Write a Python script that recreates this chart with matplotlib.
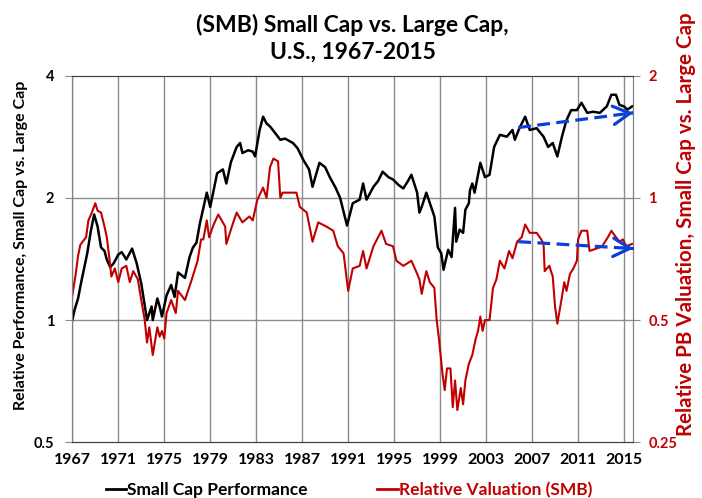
import matplotlib
matplotlib.use("Agg")
from matplotlib import pyplot as plt
from matplotlib.lines import Line2D
from matplotlib.ticker import FixedLocator, NullLocator

plt.rcParams['font.family'] = ['Lato', 'DejaVu Sans']
plt.rcParams['font.weight'] = 'bold'

# small cap vs large cap relative performance (left axis)
perf_years = [1967.0, 1967.2, 1967.5, 1967.8, 1968.0, 1968.3, 1968.6, 1968.9, 1969.2, 1969.5,
              1969.8, 1970.0, 1970.3, 1970.6, 1971.0, 1971.3, 1971.7, 1972.2, 1972.6, 1973.0,
              1973.5, 1973.9, 1974.0, 1974.4, 1974.6, 1974.8, 1975.2, 1975.6, 1975.9, 1976.2,
              1976.8, 1977.2, 1977.5, 1977.8, 1978.1, 1978.7, 1979.0, 1979.6, 1980.1, 1980.4,
              1980.8, 1981.3, 1981.6, 1981.8, 1982.3, 1982.7, 1982.9, 1983.3, 1983.6, 1983.9,
              1984.2, 1984.6, 1985.1, 1985.5, 1986.2, 1986.6, 1987.1, 1987.6, 1987.9, 1988.5,
              1989.0, 1989.4, 1989.9, 1990.3, 1990.9, 1991.4, 1992.0, 1992.3, 1992.6, 1993.2,
              1993.6, 1994.0, 1994.5, 1994.9, 1995.4, 1995.8, 1996.2, 1996.5, 1997.0, 1997.2,
              1997.4, 1997.8, 1998.3, 1998.5, 1998.8, 1999.1, 1999.3, 1999.7, 2000.0, 2000.3,
              2000.4, 2000.7, 2001.0, 2001.2, 2001.5, 2001.6, 2001.8, 2002.0, 2002.5, 2002.9,
              2003.3, 2003.7, 2004.2, 2004.8, 2005.3, 2005.5, 2005.9, 2006.4, 2006.8, 2007.4,
              2008.0, 2008.4, 2008.8, 2009.2, 2009.6, 2010.0, 2010.4, 2010.9, 2011.3, 2011.8,
              2012.3, 2012.9, 2013.5, 2013.9, 2014.3, 2014.6, 2015.0, 2015.3, 2015.7]
perf_values = [1.00, 1.06, 1.13, 1.25, 1.33, 1.46, 1.65, 1.82, 1.70, 1.51,
               1.48, 1.41, 1.35, 1.38, 1.45, 1.47, 1.41, 1.50, 1.38, 1.23,
               1.00, 1.08, 1.00, 1.13, 1.08, 1.02, 1.15, 1.22, 1.14, 1.31,
               1.27, 1.43, 1.51, 1.55, 1.73, 2.06, 1.90, 2.30, 2.35, 2.17,
               2.45, 2.67, 2.73, 2.58, 2.62, 2.60, 2.53, 2.94, 3.17, 3.05,
               3.00, 2.90, 2.78, 2.80, 2.73, 2.65, 2.48, 2.35, 2.13, 2.44,
               2.38, 2.25, 2.12, 2.00, 1.71, 1.94, 1.98, 2.17, 1.98, 2.13,
               2.20, 2.32, 2.25, 2.22, 2.15, 2.11, 2.20, 2.28, 2.06, 1.84,
               1.90, 2.06, 1.87, 1.80, 1.51, 1.46, 1.33, 1.49, 1.43, 1.89,
               1.56, 1.67, 1.64, 1.87, 1.94, 2.09, 2.17, 2.06, 2.44, 2.25,
               2.28, 2.67, 2.86, 2.83, 2.94, 2.78, 2.97, 3.17, 2.94, 2.97,
               2.83, 2.67, 2.73, 2.53, 2.83, 3.11, 3.29, 3.29, 3.43, 3.24,
               3.26, 3.24, 3.36, 3.59, 3.59, 3.39, 3.36, 3.30, 3.36]

# relative PB valuation, small vs large (right axis)
val_years = [1967.0, 1967.3, 1967.5, 1967.7, 1967.9, 1968.2, 1968.4, 1968.7, 1969.0, 1969.2,
             1969.5, 1969.8, 1970.0, 1970.2, 1970.4, 1970.7, 1971.0, 1971.3, 1971.7, 1972.0,
             1972.3, 1972.7, 1973.0, 1973.3, 1973.5, 1973.7, 1974.0, 1974.4, 1974.6, 1974.8,
             1975.0, 1975.2, 1975.6, 1976.0, 1976.2, 1976.8, 1977.4, 1977.9, 1978.2, 1978.4,
             1978.7, 1978.9, 1979.3, 1979.7, 1980.0, 1980.3, 1980.4, 1981.0, 1981.3, 1981.8,
             1982.4, 1982.7, 1983.1, 1983.6, 1983.9, 1984.2, 1984.5, 1984.9, 1985.1, 1985.3,
             1985.9, 1986.5, 1986.8, 1987.4, 1987.9, 1988.4, 1989.1, 1989.7, 1990.1, 1990.6,
             1991.0, 1991.4, 1992.0, 1992.3, 1992.6, 1993.2, 1993.9, 1994.3, 1994.9, 1995.2,
             1995.8, 1996.5, 1997.0, 1997.2, 1997.4, 1997.8, 1998.1, 1998.5, 1998.7, 1998.9,
             1999.2, 1999.4, 1999.6, 1999.9, 2000.1, 2000.3, 2000.5, 2000.8, 2001.0, 2001.2,
             2001.5, 2001.8, 2002.1, 2002.3, 2002.5, 2002.7, 2002.9, 2003.3, 2003.6, 2003.9,
             2004.2, 2004.6, 2005.0, 2005.3, 2005.7, 2006.1, 2006.4, 2006.8, 2007.4, 2007.8,
             2008.0, 2008.1, 2008.5, 2008.8, 2009.0, 2009.2, 2009.6, 2009.8, 2010.0, 2010.3,
             2010.6, 2010.9, 2011.0, 2011.3, 2011.8, 2012.0, 2012.6, 2013.1, 2013.6, 2013.9,
             2014.3, 2014.6, 2014.9, 2015.2, 2015.7]
val_values = [0.575, 0.65, 0.72, 0.766, 0.78, 0.80, 0.88, 0.92, 0.97, 0.93,
              0.92, 0.85, 0.80, 0.72, 0.64, 0.67, 0.62, 0.67, 0.68, 0.62,
              0.66, 0.63, 0.56, 0.50, 0.44, 0.48, 0.41, 0.48, 0.455, 0.47,
              0.45, 0.52, 0.56, 0.52, 0.59, 0.56, 0.63, 0.70, 0.79, 0.79,
              0.88, 0.80, 0.86, 0.91, 0.88, 0.85, 0.77, 0.87, 0.92, 0.87,
              0.90, 0.88, 0.99, 1.06, 1.00, 1.19, 1.25, 1.23, 1.00, 1.03,
              1.03, 1.03, 0.95, 0.92, 0.78, 0.87, 0.85, 0.83, 0.76, 0.73,
              0.59, 0.67, 0.68, 0.74, 0.67, 0.76, 0.83, 0.77, 0.76, 0.70,
              0.68, 0.70, 0.65, 0.63, 0.58, 0.66, 0.62, 0.60, 0.50, 0.45,
              0.37, 0.336, 0.38, 0.38, 0.305, 0.355, 0.30, 0.34, 0.31, 0.355,
              0.39, 0.41, 0.45, 0.47, 0.51, 0.47, 0.50, 0.50, 0.60, 0.63,
              0.70, 0.67, 0.74, 0.71, 0.78, 0.80, 0.86, 0.82, 0.82, 0.79,
              0.77, 0.66, 0.68, 0.64, 0.54, 0.49, 0.57, 0.62, 0.59, 0.65,
              0.67, 0.70, 0.79, 0.83, 0.83, 0.74, 0.75, 0.76, 0.80, 0.83,
              0.80, 0.78, 0.79, 0.76, 0.77]

# dashed trend arrows: (start year, end year, start value, end value)
perf_arrow = [2005.8, 2015.8, 2.98, 3.24]
val_arrow = [2005.8, 2015.8, 0.78, 0.75]

year_ticks = list(range(1967, 2016, 4))
left_ticks = [0.5, 1, 2, 4]
left_labels = ["0.5", "1", "2", "4"]
right_ticks = [0.25, 0.5, 1, 2]
right_labels = ["0.25", "0.5", "1", "2"]

RED = "#C00000"
BLUE = "#0B3FD6"
GRID = "#8c8c8c"

fig = plt.figure(figsize=(7.02, 4.98), dpi=100)
ax = fig.add_axes([0.103, 0.112, 0.799, 0.736])
ax2 = ax.twinx()

ax.set_yscale("log")
ax2.set_yscale("log")
ax.set_xlim(1967, 2015.8)
ax.set_ylim(0.5, 4)
ax2.set_ylim(0.25, 2)

for yr in year_ticks:
    ax.axvline(yr, color=GRID, lw=1.0, zorder=0)
for v in [1, 2]:
    ax.axhline(v, color=GRID, lw=1.0, zorder=0)

ax.plot(perf_years, perf_values, color="black", lw=1.8, zorder=3)
ax2.plot(val_years, val_values, color=RED, lw=1.5, zorder=2)

# trend arrows
for a, axx in [(perf_arrow, ax), (val_arrow, ax2)]:
    axx.plot(a[:2], a[2:], color=BLUE, lw=2.3, ls=(0, (4, 2)), zorder=5, clip_on=False)
    axx.annotate("", xy=(a[1], a[3]), xytext=(a[1] - 0.3, a[3] - (a[3] - a[2]) * 0.03),
                 arrowprops=dict(arrowstyle="->,head_length=0.6,head_width=0.33",
                                 color=BLUE, lw=2.3, mutation_scale=20),
                 annotation_clip=False, zorder=6)

ax.set_xticks(year_ticks)
ax.set_xticklabels([str(y) for y in year_ticks], fontsize=11.5, fontweight="bold")
ax.tick_params(axis="x", length=0, pad=8)

ax.yaxis.set_major_locator(FixedLocator(left_ticks))
ax.yaxis.set_minor_locator(NullLocator())
ax.set_yticklabels(left_labels, fontsize=10.5, fontweight="bold")
ax.tick_params(axis="y", length=5, color=GRID, pad=8)

ax2.yaxis.set_major_locator(FixedLocator(right_ticks))
ax2.yaxis.set_minor_locator(NullLocator())
ax2.set_yticklabels(right_labels, fontsize=10.5, fontweight="bold", color=RED)
ax2.tick_params(axis="y", length=5, color=GRID, pad=6)

for s in ["top", "bottom"]:
    ax.spines[s].set_color("#404040")
    ax2.spines[s].set_color("#404040")
for s in ["left", "right"]:
    ax.spines[s].set_color("#808080")
    ax2.spines[s].set_color("#808080")

ax.set_ylabel("Relative Performance, Small Cap vs. Large Cap", fontsize=11.5, fontweight="bold")
ax.yaxis.set_label_coords(-0.079, 0.538)
ax2.set_ylabel("Relative PB Valuation, Small Cap vs. Large Cap", fontsize=14.8, fontweight="bold",
               color=RED, rotation=90)
ax2.yaxis.set_label_coords(1.077, 0.595)

ax.set_title("(SMB) Small Cap vs. Large Cap,\nU.S., 1967-2015", fontsize=16.5, fontweight="bold",
             pad=12, linespacing=1.35)

handles = [Line2D([], [], color="black", lw=2), Line2D([], [], color=RED, lw=2)]
leg = fig.legend(handles, ["Small Cap Performance", "Relative Valuation (SMB)"],
                 loc="center", bbox_to_anchor=(0.497, 0.016), ncol=2, frameon=False,
                 handlelength=1.2, handletextpad=0.05, columnspacing=4.0,
                 prop={"size": 12.5, "weight": "bold"})
leg.get_texts()[1].set_color(RED)

fig.savefig("out.png", dpi=100)
